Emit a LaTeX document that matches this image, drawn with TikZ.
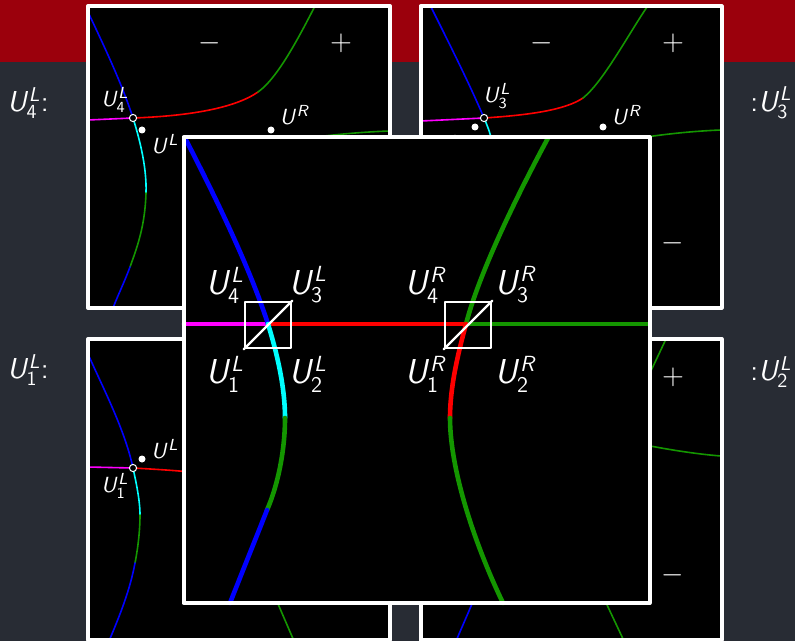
\documentclass[tikz,border=0pt]{standalone}
\usepackage{fontspec}
\DeclareMathAlphabet{\mathsfit}{OT1}{cmss}{m}{sl}

\definecolor{slidebg}{RGB}{40,44,52}
\definecolor{bandred}{RGB}{155,0,12}
\definecolor{curvegreen}{RGB}{20,150,0}
\definecolor{curvecyan}{RGB}{0,255,255}
\definecolor{curvemagenta}{RGB}{255,0,255}
\definecolor{curveblue}{RGB}{0,0,255}
\definecolor{curvered}{RGB}{255,0,0}

\newcommand{\Ulab}[2]{\ensuremath{\mathsfit{U}^{\mathsfit{#1}}_{\mathsf{#2}}}}
\newcommand{\Upt}[1]{\ensuremath{\mathsfit{U}^{\mathsfit{#1}}}}

\begin{document}
\begin{tikzpicture}[x=0.5pt, y=-0.5pt, line cap=round, line join=round]

\tikzstyle{panelframe} = [draw=white, line width=2pt]
\tikzstyle{fineline} = [line width=0.8pt]
\tikzstyle{boldline} = [line width=2.3pt]
\tikzstyle{biglab} = [text=white, font=\fontsize{16}{18}\selectfont, inner sep=0pt]
\tikzstyle{smalllab} = [text=white, font=\fontsize{11}{13}\selectfont, inner sep=0pt]
\tikzstyle{sidelab} = [text=white, font=\fontsize{14.4}{17}\selectfont, inner sep=0pt]
\tikzstyle{signlab} = [text=white, font=\fontsize{14}{16}\selectfont, inner sep=0pt]
\tikzstyle{statedot} = [circle, fill=white, inner sep=0pt, minimum size=3.5pt]
\tikzstyle{crossing} = [circle, draw=white, fill=black, line width=0.5pt, inner sep=0pt, minimum size=3.6pt]
\tikzstyle{cornerbox} = [draw=white, line width=1.2pt, minimum size=23pt, inner sep=0pt]

% --- slide background
\fill[slidebg] (0,0) rectangle (795,641);
\fill[bandred] (0,0) rectangle (795,62);
\useasboundingbox (0,0) rectangle (795,641);

% --- panel oben links
\fill[black] (88,6) rectangle (390,308);
\draw[fineline, curveblue] (88,12) .. controls (105,48) and (122,84) .. (133,118);
\draw[fineline, curvecyan] (133,118) .. controls (138,134) and (147,165) .. (146,193);
\draw[fineline, curvegreen] (146,193) .. controls (145,225) and (138,245) .. (130,267);
\draw[fineline, curveblue] (130,267) .. controls (124,283) and (118,295) .. (113,308);
\draw[fineline, curvemagenta] (88,120) -- (133,118);
\draw[fineline, curvered] (133,118) .. controls (190,116) and (235,108) .. (258,92);
\draw[fineline, curvegreen] (258,92) .. controls (278,78) and (300,35) .. (315,6);
\draw[fineline, curvegreen] (300,139) .. controls (330,135) and (360,132) .. (390,131);
\node[crossing] (cross4) at (133,118) {};
\node[statedot] (ptL1) at (142,130) {};
\node[statedot] (ptR1) at (271,130) {};
\node[smalllab] (lab4) at (115,100) {\Ulab{L}{4}};
\node[smalllab] (labL1) at (165,144) {\Upt{L}};
\node[smalllab] (labR1) at (295,115) {\Upt{R}};
\node[signlab] (minus1) at (210,43) {$-$};
\node[signlab] (plus1) at (341,43) {$+$};
\draw[panelframe] (88,6) rectangle (390,308);

% --- panel oben rechts
\fill[black] (420.5,6.5) rectangle (721.5,307.5);
\draw[fineline, curveblue] (431,7) .. controls (450,45) and (470,85) .. (484,118);
\draw[fineline, curvecyan] (484,118) .. controls (487,125) and (490,132) .. (492,142);
\draw[fineline, curvemagenta] (421,121) -- (484,118);
\draw[fineline, curvered] (484,118) .. controls (530,115) and (565,110) .. (583,98);
\draw[fineline, curvegreen] (583,98) .. controls (603,82) and (628,35) .. (647,7);
\draw[fineline, curvegreen] (640,138) .. controls (665,134) and (695,131) .. (721,130);
\node[crossing] (cross3) at (484,118) {};
\node[statedot] (ptL2) at (475,127) {};
\node[statedot] (ptR2) at (603,127) {};
\node[smalllab] (lab3) at (497,96) {\Ulab{L}{3}};
\node[smalllab] (labL2) at (447,145) {\Upt{L}};
\node[smalllab] (labR2) at (627,115) {\Upt{R}};
\node[signlab] (minus2) at (542,43) {$-$};
\node[signlab] (plus2) at (673,43) {$+$};
\node[signlab] (minus3) at (673,243) {$-$};
\draw[panelframe] (420.5,6.5) rectangle (721.5,307.5);

% --- panel unten links
\fill[black] (88,339) rectangle (390,640);
\draw[fineline, curveblue] (88,354) .. controls (103,388) and (125,430) .. (133,468);
\draw[fineline, curvecyan] (133,468) .. controls (136,482) and (140,500) .. (140,515);
\draw[fineline, curvegreen] (140,515) .. controls (140,530) and (138,548) .. (135,563);
\draw[fineline, curveblue] (135,563) .. controls (130,590) and (120,615) .. (109,641);
\draw[fineline, curvemagenta] (88,467) -- (133,468);
\draw[fineline, curvered] (133,468) .. controls (150,469) and (170,470) .. (190,472);
\draw[fineline, curvegreen] (272,590) -- (294,641);
\node[crossing] (cross1) at (133,468) {};
\node[statedot] (ptL3) at (142,459) {};
\node[smalllab] (lab1) at (115,486) {\Ulab{L}{1}};
\node[smalllab] (labL3) at (165,449) {\Upt{L}};
\draw[panelframe] (88,339) rectangle (390,640);

% --- panel unten rechts
\fill[black] (420.5,339) rectangle (721.5,640);
\draw[fineline, curvegreen] (640,394) -- (666,339);
\draw[fineline, curvegreen] (640,444) .. controls (665,449) and (695,454) .. (721,456);
\draw[fineline, curveblue] (478,590) -- (456,641);
\draw[fineline, curvegreen] (600,590) -- (624,641);
\node[signlab] (plus4) at (673,377) {$+$};
\node[signlab] (minus4) at (673,575) {$-$};
\draw[panelframe] (420.5,339) rectangle (721.5,640);

% --- vergroessertes panel in der mitte
\fill[black] (183.5,137.5) rectangle (649.5,603);

\draw[boldline, curvemagenta] (184,324) -- (268,324);
\draw[boldline, curvered] (268,324) -- (466,324);
\draw[boldline, curvegreen] (466,324) -- (649,324);

% linker ast
\draw[boldline, curveblue] (185,138) .. controls (215,196) and (250,268) .. (268,324);
\draw[boldline, curvecyan] (268,324) .. controls (276,350) and (285,385) .. (285,418);
\draw[boldline, curvegreen] (285,418) .. controls (285,450) and (278,485) .. (267,510);
\draw[boldline, curveblue] (267,510) .. controls (256,538) and (243,570) .. (230,603);

% rechter ast
\draw[boldline, curvegreen] (548,138) .. controls (520,190) and (480,270) .. (466,324);
\draw[boldline, curvered] (466,324) .. controls (459,350) and (450,385) .. (450,418);
\draw[boldline, curvegreen] (450,418) .. controls (450,470) and (475,545) .. (503,603);

\node[cornerbox] (boxL) at (268,325) {};
\node[cornerbox] (boxR) at (468,325) {};
\draw[white, line width=1.2pt] (boxL.south west) -- (boxL.north east);
\draw[white, line width=1.2pt] (boxR.south west) -- (boxR.north east);

\node[biglab] (bigL4) at (225,285) {\Ulab{L}{4}};
\node[biglab] (bigL3) at (308,285) {\Ulab{L}{3}};
\node[biglab] (bigL1) at (225,374) {\Ulab{L}{1}};
\node[biglab] (bigL2) at (308,374) {\Ulab{L}{2}};
\node[biglab] (bigR4) at (426,285) {\Ulab{R}{4}};
\node[biglab] (bigR3) at (516,285) {\Ulab{R}{3}};
\node[biglab] (bigR1) at (426,374) {\Ulab{R}{1}};
\node[biglab] (bigR2) at (516,374) {\Ulab{R}{2}};

\draw[panelframe] (183.5,137.5) rectangle (649.5,603);

% --- seitenbeschriftung
\node[sidelab] (sideL4) at (28,103) {\Ulab{L}{4}{\sffamily :}};
\node[sidelab] (sideL1) at (28,370) {\Ulab{L}{1}{\sffamily :}};
\node[sidelab, anchor=west] (sideL3) at (750,103) {{\sffamily :}\Ulab{L}{3}};
\node[sidelab, anchor=west] (sideL2) at (750,372) {{\sffamily :}\Ulab{L}{2}};

\end{tikzpicture}
\end{document}
